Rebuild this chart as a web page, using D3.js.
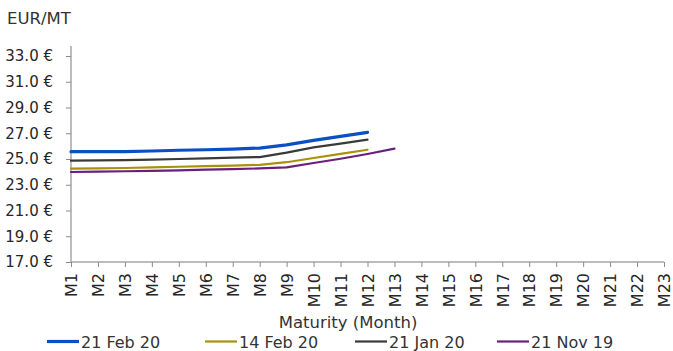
<!DOCTYPE html>
<html><head><meta charset="utf-8">
<script src="https://cdn.jsdelivr.net/npm/d3@7"></script>
<style>body{margin:0;background:#fff}svg{display:block;font-family:"DejaVu Sans",sans-serif}</style>
</head><body>
<svg id="c" width="673" height="351"></svg>
<script>
const categories = ["M1","M2","M3","M4","M5","M6","M7","M8","M9","M10","M11","M12","M13","M14","M15","M16","M17","M18","M19","M20","M21","M22","M23"];
const yTicks = [17,19,21,23,25,27,29,31,33];
const feb21 = [25.57,25.58,25.57,25.62,25.68,25.72,25.77,25.85,26.1,26.45,26.76,27.07];
const feb14 = [24.25,24.27,24.3,24.35,24.4,24.45,24.48,24.55,24.75,25.08,25.4,25.72];
const jan21 = [24.87,24.9,24.92,24.95,25.0,25.05,25.1,25.15,25.5,25.9,26.2,26.5];
const nov21 = [23.99,24.02,24.05,24.08,24.12,24.18,24.22,24.27,24.35,24.69,25.02,25.39,25.8];
const seriesNames = ["21 Feb 20","14 Feb 20","21 Jan 20","21 Nov 19"];
const seriesColors = ["#0a4fc4","#a8920c","#3a3a3a","#6a1f7e"];
const seriesWidths = [3.2,2.2,2.2,2.2];
const seriesData = [feb21,feb14,jan21,nov21];

const svg = d3.select("#c");
const x = d3.scalePoint().domain(categories).range([71,664]);
const y = d3.scaleLinear().domain([17,33]).range([262,56]);
const axisColor = "#a6a6a6";
const font = "DejaVu Sans, sans-serif";

// y axis
const ya = svg.append("g").attr("transform","translate(71,0)")
  .call(d3.axisLeft(y).tickValues(yTicks).tickSize(5).tickPadding(13).tickFormat(d=>d3.format(".1f")(d)+" €"));
ya.select(".domain").attr("d","M0,46V262").attr("stroke",axisColor).attr("stroke-width",1.5);
ya.selectAll(".tick line").attr("stroke","#8c8c8c");
ya.selectAll("text").attr("font-size",15).attr("fill","#262626").attr("font-family",font);

// x axis
const xa = svg.append("g").attr("transform","translate(0,262)")
  .call(d3.axisBottom(x).tickSize(5).tickPadding(0));
xa.select(".domain").attr("d","M71,0H664").attr("stroke",axisColor).attr("stroke-width",1.5);
xa.selectAll(".tick line").attr("stroke","#8c8c8c");
xa.selectAll(".tick text").attr("transform","rotate(-90)").attr("text-anchor","end")
  .attr("x",-11).attr("y",0).attr("dy","0.36em").attr("font-size",16).attr("fill","#262626")
  .attr("font-family",font);

// lines
const line = d3.line().x((d,i)=>x(categories[i])).y(d=>y(d));
[3,1,2,0].forEach(k=>{
  svg.append("path").datum(seriesData[k]).attr("d",line).attr("fill","none")
    .attr("stroke",seriesColors[k]).attr("stroke-width",seriesWidths[k]).attr("stroke-linejoin","round").attr("stroke-linecap","round");
});

// titles
svg.append("text").attr("x",7).attr("y",24).attr("font-size",16.5).attr("fill","#333").text("EUR/MT");
svg.append("text").attr("x",348).attr("y",328).attr("text-anchor","middle").attr("font-size",16.5).attr("fill","#333").text("Maturity (Month)");

// legend
const legX = [47,205,355,497];
seriesNames.forEach((n,i)=>{
  svg.append("line").attr("x1",legX[i]).attr("x2",legX[i]+32).attr("y1",341.5).attr("y2",341.5)
    .attr("stroke",seriesColors[i]).attr("stroke-width",seriesWidths[i]);
  svg.append("text").attr("x",legX[i]+34).attr("y",347.5).attr("font-size",16).attr("fill","#333").text(n);
});
</script>
</body></html>
